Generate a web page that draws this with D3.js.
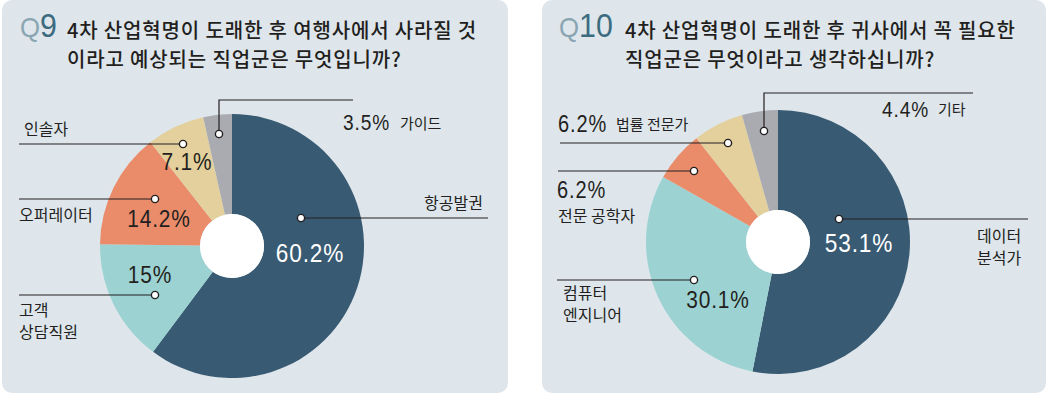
<!DOCTYPE html>
<html>
<head>
<meta charset="utf-8">
<script src="https://cdn.jsdelivr.net/npm/d3@7"></script>
<style>
  html, body { margin: 0; padding: 0; background: #fff; }
  .title { font-family: "Noto Sans CJK KR", sans-serif; font-weight: 500; fill: #231f20; }
  .num { font-family: "Liberation Sans", Arial, sans-serif; }
  .kr { font-family: "Noto Sans CJK KR", sans-serif; fill: #231f20; }
</style>
</head>
<body>
<div id="chart"></div>
<script>
// Q9 data
const q9Title = ['4차 산업혁명이 도래한 후 여행사에서 사라질 것', '이라고 예상되는 직업군은 무엇입니까?']
const q9Labels = [['항공발권'], ['고객', '상담직원'], ['오퍼레이터'], ['인솔자'], ['가이드']]
const q9Values = [60.2, 15, 14.2, 7.1, 3.5]
const q9Text = ['60.2%', '15%', '14.2%', '7.1%', '3.5%']

// Q10 data
const q10Title = ['4차 산업혁명이 도래한 후 귀사에서 꼭 필요한', '직업군은 무엇이라고 생각하십니까?']
const q10Labels = [['데이터', '분석가'], ['컴퓨터', '엔지니어'], ['전문 공학자'], ['법률 전문가'], ['기타']]
const q10Values = [53.1, 30.1, 6.2, 6.2, 4.4]
const q10Text = ['53.1%', '30.1%', '6.2%', '6.2%', '4.4%']

const colors = ['#385a72', '#9cd3d2', '#ea8c6a', '#e3d09d', '#a9abb0']

const width = 1048, height = 394
const svg = d3.select('#chart').append('svg')
    .attr('width', width)
    .attr('height', height)

// callout layout, relative to pie centre
// dot: leader dot, line: leader path, pct: [x, y, anchor, size, colour], name: label position
const q9Layout = [
    {dot: [69, -28], line: [[69, -28], [256, -28]], pct: [78, 16, 'middle', 26, '#fff'],
     name: [192, -37]},
    {dot: [-77, 49], line: [[-77, 49], [-213, 49]], pct: [-82, 37, 'middle', 24],
     name: [-213, 70]},
    {dot: [-77, -47], line: [[-77, -47], [-213, -47]], pct: [-73, -19, 'middle', 24],
     name: [-213, -25]},
    {dot: [-49, -102], line: [[-49, -102], [-213, -102]], pct: [-45, -76, 'middle', 24],
     name: [-208, -111]},
    {dot: [-13, -112], line: [[-13, -112], [-13, -146], [121, -146]], pct: [111, -116, 'start', 22],
     name: [168, -117], inline: true}
]

const q10Layout = [
    {dot: [61, -23], line: [[61, -23], [250, -23]], pct: [81, 10, 'middle', 26, '#fff'],
     name: [199, 0]},
    {dot: [-84, 38], line: [[-84, 38], [-221, 38]], pct: [-60, 66, 'middle', 24],
     name: [-215, 57]},
    {dot: [-84, -71], line: [[-84, -71], [-220, -71]], pct: [-221, -44, 'start', 23],
     name: [-220, -20]},
    {dot: [-50, -99], line: [[-50, -99], [-218, -99]], pct: [-220, -110, 'start', 23],
     name: [-162, -112], inline: true},
    {dot: [-14, -111], line: [[-14, -111], [-14, -149], [195, -149]], pct: [104, -125, 'start', 22],
     name: [160, -127], inline: true}
]

const NARROW = 0.87

const drawPanel = ({x0, w, qNum, qx, titleX, title, labels, values, texts, cx, cy, layout}) => {
    const panel = svg.append('g').attr('class', 'panel')

    panel.append('rect')
        .attr('x', x0).attr('y', 0)
        .attr('width', w).attr('height', 393)
        .attr('rx', 10)
        .attr('fill', '#dee6ec')

    // question number
    const q = panel.append('text')
        .attr('class', 'num')
        .attr('transform', 'translate(' + qx + ',37) scale(0.92,1)')
        .style('font-size', '33px')
    q.append('tspan').text('Q').attr('fill', '#8aa5b2').style('font-size', '28px')
    q.append('tspan').text(qNum).attr('fill', '#3c6b80')

    panel.selectAll('text.title')
        .data(title)
        .join('text')
            .attr('class', 'title')
            .attr('x', titleX)
            .attr('y', (d, i) => 38 + i * 29)
            .style('font-size', '20px')
            .style('letter-spacing', '0.85px')
            .text(d => d)

    const pie = d3.pie().sort(null).value(d => d)
    const arc = d3.arc().innerRadius(32).outerRadius(132)

    const g = panel.append('g')
        .attr('transform', 'translate(' + cx + ',' + cy + ')')

    g.selectAll('path.slice')
        .data(pie(values))
        .join('path')
            .attr('class', 'slice')
            .attr('d', arc)
            .attr('fill', (d, i) => colors[i])

    g.append('circle').attr('r', 32).attr('fill', '#fff')

    // leader lines
    const line = d3.line()
    g.selectAll('path.leader')
        .data(layout)
        .join('path')
            .attr('class', 'leader')
            .attr('d', d => line(d.line))
            .attr('fill', 'none')
            .attr('stroke', '#231f20')
            .attr('stroke-width', 1.2)

    g.selectAll('circle.dot')
        .data(layout)
        .join('circle')
            .attr('class', 'dot')
            .attr('cx', d => d.dot[0])
            .attr('cy', d => d.dot[1])
            .attr('r', 3.6)
            .attr('fill', '#fff')
            .attr('stroke', '#231f20')
            .attr('stroke-width', 1.4)

    // percent labels, condensed
    g.selectAll('text.pct')
        .data(layout)
        .join('text')
            .attr('class', 'num pct')
            .attr('transform', d => 'translate(' + d.pct[0] + ',' + d.pct[1] + ') scale(' + NARROW + ',1)')
            .attr('text-anchor', d => d.pct[2])
            .style('font-size', d => d.pct[3] + 'px')
            .style('letter-spacing', '1px')
            .attr('fill', d => d.pct[4] || '#231f20')
            .text((d, i) => texts[i])

    // category names, one text per line
    layout.forEach((d, i) => {
        labels[i].forEach((s, k) => {
            g.append('text')
                .attr('class', 'kr')
                .attr('x', d.name[0])
                .attr('y', d.name[1] + k * 22)
                .style('font-size', d.inline ? '15px' : '16px')
                .text(s)
        })
    })
}

drawPanel({x0: 2, w: 506, qNum: '9', qx: 20, titleX: 67,
    title: q9Title, labels: q9Labels, values: q9Values, texts: q9Text,
    cx: 232, cy: 246, layout: q9Layout})

drawPanel({x0: 542, w: 504, qNum: '10', qx: 559, titleX: 625,
    title: q10Title, labels: q10Labels, values: q10Values, texts: q10Text,
    cx: 778, cy: 242, layout: q10Layout})
</script>
</body>
</html>
